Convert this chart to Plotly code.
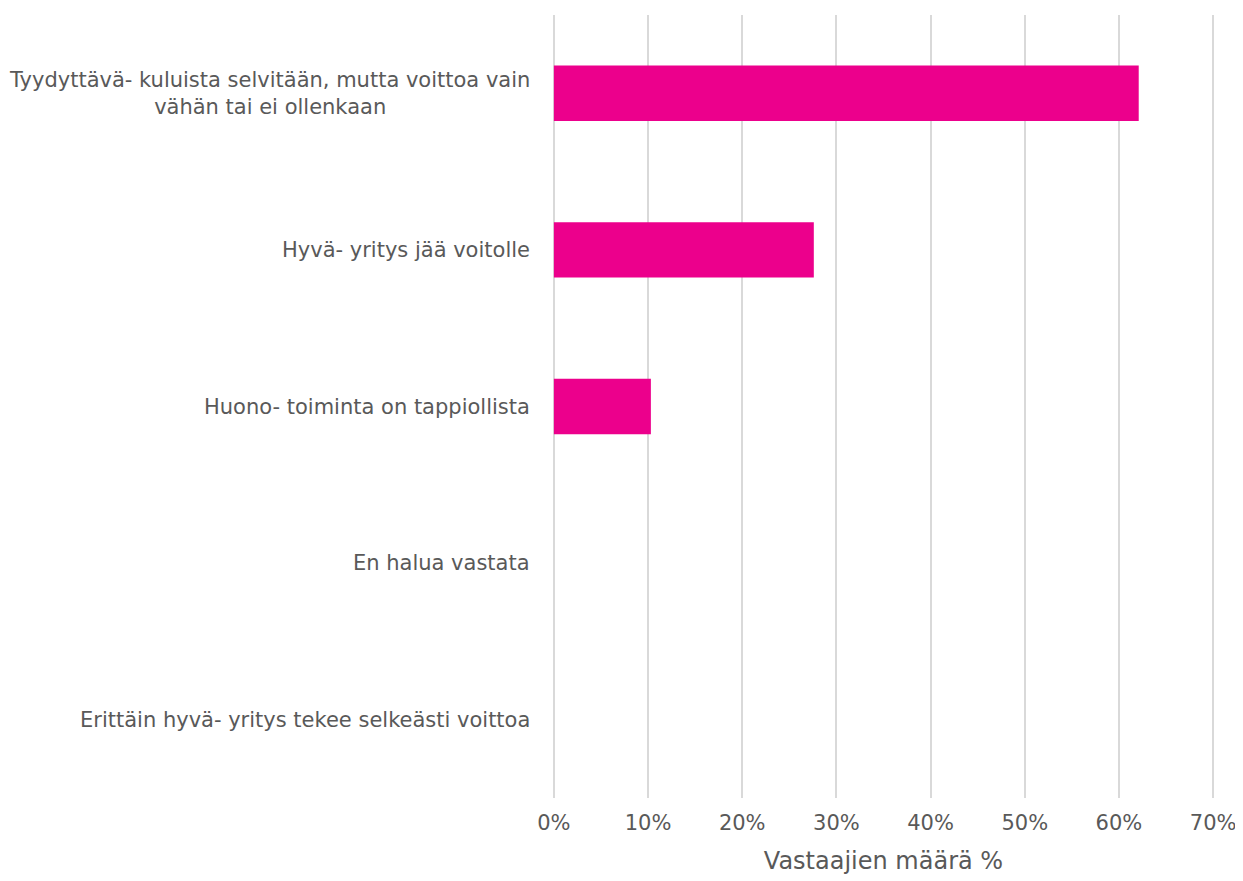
import plotly.graph_objects as go

categories = [
    "Erittäin hyvä- yritys tekee selkeästi voittoa",
    "En halua vastata",
    "Huono- toiminta on tappiollista",
    "Hyvä- yritys jää voitolle",
    "Tyydyttävä- kuluista selvitään, mutta voittoa vain<br>vähän tai ei ollenkaan",
]
values = [0.0, 0.0, 10.3, 27.6, 62.1]
tick_values = [0, 10, 20, 30, 40, 50, 60, 70]
tick_labels = ["0%", "10%", "20%", "30%", "40%", "50%", "60%", "70%"]

FONT = "DejaVu Sans, sans-serif"
GREY = "#595959"

fig = go.Figure()
fig.add_trace(go.Bar(
    x=values, y=categories, orientation="h",
    marker=dict(color="#EC008C", line=dict(width=0)),
    width=0.354,
))

for c in categories:
    fig.add_annotation(
        x=0, xref="paper", y=c, yref="y",
        text=c, showarrow=False, xanchor="right", xshift=-20,
        align="center", font=dict(family=FONT, size=21, color=GREY),
    )

fig.update_layout(
    width=1235, height=873,
    margin=dict(l=544, r=22, t=7, b=83, pad=0),
    paper_bgcolor="white", plot_bgcolor="white",
    showlegend=False,
)
fig.update_xaxes(
    range=[-0.2, 70.2], tickvals=tick_values, ticktext=tick_labels,
    showgrid=True, gridcolor="#d9d9d9", gridwidth=1.5,
    zeroline=False, showline=False, ticks="",
    ticklabelstandoff=10,
    tickfont=dict(family=FONT, size=21, color=GREY),
    title=dict(text="Vastaajien määrä %", font=dict(family=FONT, size=24, color=GREY), standoff=18),
    fixedrange=True,
)
fig.update_yaxes(
    categoryorder="array", categoryarray=categories,
    showticklabels=False, showgrid=False, zeroline=False, showline=False, ticks="",
    range=[-0.5, 4.5],
)

fig.write_html("out.html")
